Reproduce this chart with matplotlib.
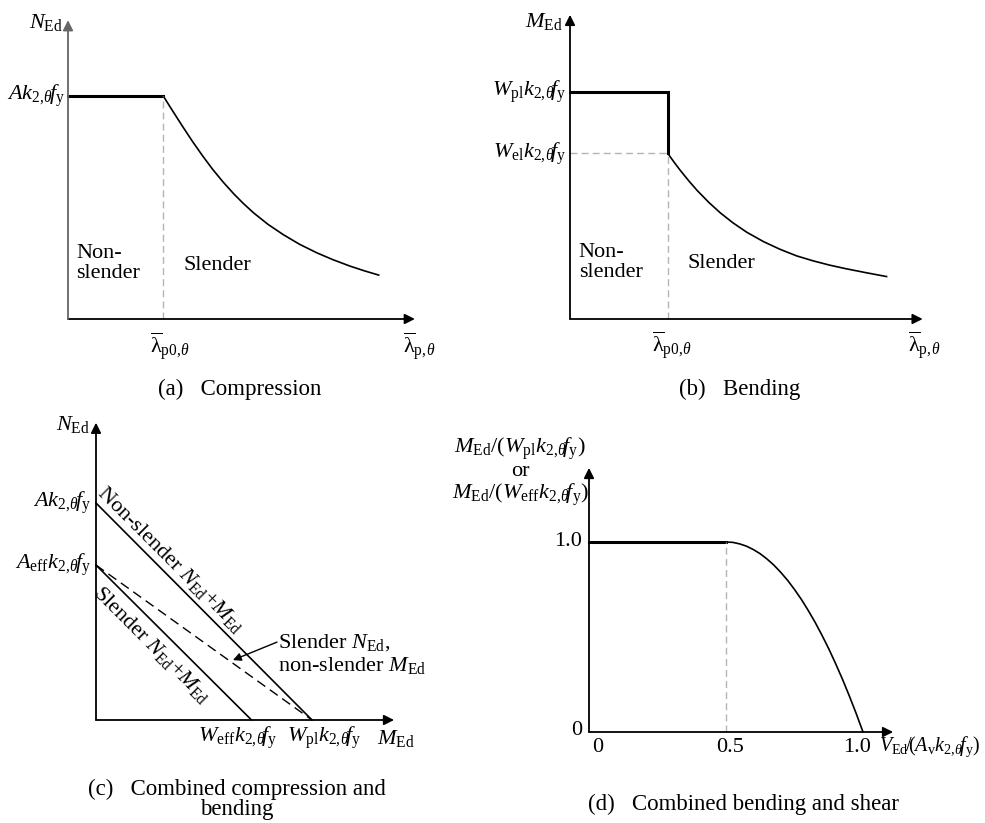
import matplotlib
matplotlib.use("Agg")
import matplotlib.pyplot as plt

W, H = 985, 823

# (a) compression: plateau then slender reduction
comp_plateau_x = [0.0, 1.0]
comp_plateau_y = [1.0, 1.0]
comp_lam = [1.0, 1.07, 1.14, 1.22, 1.31, 1.41, 1.52, 1.63, 1.74, 1.84, 1.95,
            2.1, 2.26, 2.43, 2.61, 2.78, 2.96, 3.11, 3.26]
comp_n = [1.0, 0.952, 0.905, 0.852, 0.794, 0.733, 0.670, 0.613, 0.561, 0.518,
          0.475, 0.424, 0.378, 0.335, 0.297, 0.266, 0.237, 0.216, 0.197]
comp_lam_p0 = 1.0

# (b) bending
bend_plateau_x = [0.0, 1.0, 1.0]
bend_plateau_y = [1.0, 1.0, 0.73]
bend_lam = [1.0, 1.065, 1.13, 1.215, 1.30, 1.42, 1.54, 1.67, 1.81, 1.98, 2.15,
            2.32, 2.49, 2.66, 2.83, 3.03, 3.24]
bend_m = [0.73, 0.691, 0.654, 0.609, 0.567, 0.514, 0.467, 0.423, 0.382, 0.341,
          0.307, 0.278, 0.256, 0.237, 0.221, 0.204, 0.187]
bend_lam_p0 = 1.0
bend_wel = 0.73

# (c) combined compression and bending (N / A k fy, M / Wpl k fy)
ak = 1.0
aeff = 0.714
wpl = 1.0
weff = 0.72

# (d) combined bending and shear
shear_plateau_x = [0.0, 0.5]
shear_plateau_y = [1.0, 1.0]
shear_v = [0.5, 0.525, 0.55, 0.575, 0.6, 0.625, 0.65, 0.675, 0.7, 0.725, 0.75,
           0.775, 0.8, 0.825, 0.85, 0.875, 0.9, 0.925, 0.95, 0.975, 1.0]
shear_m = [1.0, 0.998, 0.99, 0.978, 0.96, 0.938, 0.91, 0.878, 0.84, 0.798, 0.75,
           0.698, 0.64, 0.578, 0.51, 0.438, 0.36, 0.278, 0.19, 0.098, 0.0]
shear_xticks = ["0", "0.5", "1.0"]
shear_yticks = ["0", "1.0"]

plt.rcParams["font.family"] = ["Liberation Serif", "DejaVu Serif"]
plt.rcParams["mathtext.fontset"] = "custom"
plt.rcParams["mathtext.rm"] = "Liberation Serif"
plt.rcParams["mathtext.it"] = "Liberation Serif:italic"
plt.rcParams["mathtext.bf"] = "Liberation Serif:bold"
plt.rcParams["font.size"] = 16

GRAY_DASH = dict(color="#b4b4b4", lw=1.0, ls=(0, (5, 3)), clip_on=False)
THICK = dict(color="black", lw=2.2, clip_on=False, solid_joinstyle="miter")
THIN = dict(color="black", lw=1.2, clip_on=False)


def panel(fig, ox, oy, ux, uy, xmax, ymax, ycolor="black"):
    # axes placed so that the origin and units land where the sketch has them
    ax = fig.add_axes([ox / W, (H - oy) / H, xmax * ux / W, ymax * uy / H])
    ax.set_xlim(0, xmax)
    ax.set_ylim(0, ymax)
    ax.axis("off")
    arrow = dict(arrowstyle="-|>", lw=1.3, color="black", mutation_scale=15,
                 shrinkA=0, shrinkB=0)
    ax.annotate("", xy=(xmax, 0), xytext=(0, 0), arrowprops=arrow,
                annotation_clip=False)
    ax.annotate("", xy=(0, ymax), xytext=(0, 0),
                arrowprops={**arrow, "color": ycolor}, annotation_clip=False)
    return ax


def caption(fig, x, y, s):
    fig.text(x / W, 1 - y / H, s, ha="center", va="center", fontsize=16.5)


fig = plt.figure(figsize=(W / 100, H / 100), dpi=100)

lam_p0 = r"$\overline{\mathrm{\lambda}}_{\mathrm{p0},\!\theta}$"
lam_p = r"$\overline{\mathrm{\lambda}}_{\mathrm{p},\!\theta}$"
kfy = r"k_{2,\!\theta}\!f_{\mathrm{y}}"

# ---- (a) Compression
ax = panel(fig, 68, 319, 95.3, 223, 3.64, 1.34, ycolor="#666666")
ax.plot(comp_plateau_x, comp_plateau_y, **THICK)
ax.plot(comp_lam, comp_n, **THIN)
ax.plot([comp_lam_p0, comp_lam_p0], [0, comp_plateau_y[-1]], **GRAY_DASH)
ax.text(-0.05, 1.33, r"$N_{\mathrm{Ed}}$", ha="right", va="center")
ax.text(-0.03, 1.0, r"$A" + kfy + "$", ha="right", va="center")
ax.text(0.09, 0.25, "Non-\nslender", ha="left", va="center", linespacing=1.1)
ax.text(1.21, 0.24, "Slender", ha="left", va="center")
ax.text(0.86, -0.12, lam_p0, ha="left", va="center")
ax.text(3.52, -0.12, lam_p, ha="left", va="center")
caption(fig, 240, 389, "(a)   Compression")

# ---- (b) Bending
ax = panel(fig, 570, 319, 97.7, 227, 3.61, 1.34)
ax.plot(bend_plateau_x, bend_plateau_y, **THICK)
ax.plot(bend_lam, bend_m, **THIN)
ax.plot([0, bend_lam_p0], [bend_wel, bend_wel], **GRAY_DASH)
ax.plot([bend_lam_p0, bend_lam_p0], [0, bend_wel], **GRAY_DASH)
ax.text(-0.07, 1.31, r"$M_{\mathrm{Ed}}$", ha="right", va="center")
ax.text(-0.04, 1.0, r"$W_{\mathrm{pl}}" + kfy + "$", ha="right", va="center")
ax.text(-0.04, bend_wel, r"$W_{\mathrm{el}}" + kfy + "$", ha="right", va="center")
ax.text(0.09, 0.25, "Non-\nslender", ha="left", va="center", linespacing=1.1)
ax.text(1.2, 0.245, "Slender", ha="left", va="center")
ax.text(0.84, -0.115, lam_p0, ha="left", va="center")
ax.text(3.46, -0.115, lam_p, ha="left", va="center")
caption(fig, 740, 389, "(b)   Bending")

# ---- (c) Combined compression and bending
ax = panel(fig, 96, 720, 216, 217, 1.38, 1.37)
ax.plot([0, wpl], [ak, 0], **THIN)
ax.plot([0, weff], [aeff, 0], **THIN)
ax.plot([0, wpl], [aeff, 0], color="black", lw=1.0, ls=(0, (7, 4)), clip_on=False)
ax.text(-0.03, 1.36, r"$N_{\mathrm{Ed}}$", ha="right", va="center")
ax.text(-0.023, ak, r"$A" + kfy + "$", ha="right", va="center")
ax.text(-0.023, aeff, r"$A_{\mathrm{eff}}" + kfy + "$", ha="right", va="center")
ax.text(0.655, -0.083, r"$W_{\mathrm{eff}}" + kfy + "$", ha="center", va="center")
ax.text(1.056, -0.083, r"$W_{\mathrm{pl}}" + kfy + "$", ha="center", va="center")
ax.text(1.39, -0.083, r"$M_{\mathrm{Ed}}$", ha="center", va="center")
ax.text(0.343, 0.737, r"Non-slender $N_{\mathrm{Ed}}$+$M_{\mathrm{Ed}}$",
        rotation=-45, rotation_mode="anchor", ha="center", va="center")
ax.text(0.26, 0.346, r"Slender $N_{\mathrm{Ed}}$+$M_{\mathrm{Ed}}$",
        rotation=-45, rotation_mode="anchor", ha="center", va="center")
ax.annotate("", xy=(0.634, 0.276), xytext=(0.838, 0.359),
            arrowprops=dict(arrowstyle="-|>", lw=1.0, color="black",
                            mutation_scale=12, shrinkA=0, shrinkB=0),
            annotation_clip=False)
ax.text(0.843, 0.304, "Slender $N_{\\mathrm{Ed}}$,\nnon-slender $M_{\\mathrm{Ed}}$",
        ha="left", va="center", linespacing=1.15)
caption(fig, 237, 789, "(c)   Combined compression and")
caption(fig, 237, 810, "bending")

# ---- (d) Combined bending and shear
ax = panel(fig, 589, 732, 274, 190, 1.11, 1.39)
ax.plot(shear_plateau_x, shear_plateau_y, **THICK)
ax.plot(shear_v, shear_m, **THIN)
ax.plot([shear_plateau_x[-1]] * 2, [0, shear_plateau_y[-1]], **GRAY_DASH)
for x, s in zip([0.03, 0.515, 0.978], shear_xticks):
    ax.text(x, -0.079, s, ha="center", va="center")
for y, s in zip([0.01, 1.0], shear_yticks):
    ax.text(-0.025, y, s, ha="right", va="center")
ax.text(1.058, -0.079, r"$V_{\mathrm{Ed}}\!/\!(A_{\mathrm{v}}" + kfy + ")$",
        ha="left", va="center", fontsize=14.5)
ax.text(-0.252, 1.49, r"$M_{\mathrm{Ed}}/(W_{\mathrm{pl}}" + kfy + ")$",
        ha="center", va="center")
ax.text(-0.252, 1.37, "or", ha="center", va="center")
ax.text(-0.252, 1.25, r"$M_{\mathrm{Ed}}/(W_{\mathrm{eff}}" + kfy + ")$",
        ha="center", va="center")
caption(fig, 743, 804, "(d)   Combined bending and shear")

fig.savefig("out.png", dpi=100)
